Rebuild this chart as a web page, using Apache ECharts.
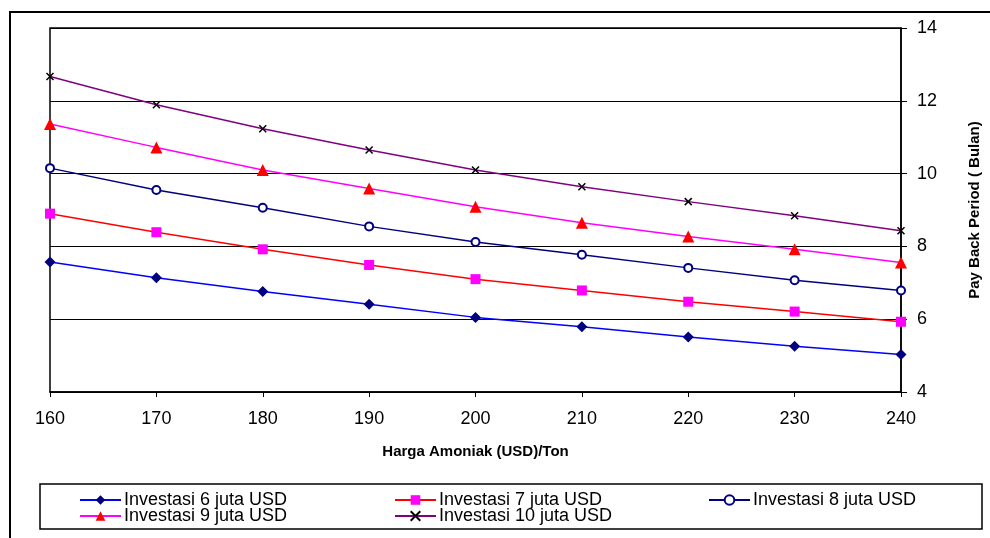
<!DOCTYPE html>
<html><head><meta charset="utf-8">
<script src="https://cdn.jsdelivr.net/npm/echarts@6/dist/echarts.min.js"></script>
<style>html,body{margin:0;padding:0;background:#fff}#c{width:990px;height:538px}</style>
</head><body><div id="c"></div>
<script>
const hargaTicks = [160, 170, 180, 190, 200, 210, 220, 230, 240];
const seriesNames = ['Investasi 6 juta USD','Investasi 7 juta USD','Investasi 8 juta USD','Investasi 9 juta USD','Investasi 10 juta USD'];
const inv6  = [7.57, 7.14, 6.76, 6.41, 6.05, 5.79, 5.51, 5.26, 5.03];
const inv7  = [8.90, 8.39, 7.92, 7.49, 7.10, 6.79, 6.48, 6.21, 5.93];
const inv8  = [10.15, 9.55, 9.06, 8.55, 8.12, 7.77, 7.41, 7.07, 6.79];
const inv9  = [11.36, 10.72, 10.10, 9.59, 9.09, 8.65, 8.27, 7.92, 7.56];
const inv10 = [12.67, 11.89, 11.23, 10.65, 10.10, 9.64, 9.23, 8.84, 8.43];

const font = '"Liberation Sans", Arial, sans-serif';
const pair = arr => arr.map((v,i)=>[hargaTicks[i], v]);
const styles = [
  {line:'#0000FF', symbol:'diamond', size:11, item:{color:'#000080'}},
  {line:'#FF0000', symbol:'rect', size:10, item:{color:'#FF00FF'}},
  {line:'#000080', symbol:'emptyCircle', size:8, item:{color:'#000080', borderWidth:1.2}},
  {line:'#FF00FF', symbol:'triangle', size:12, item:{color:'#FF0000'}},
  {line:'#800080', symbol:'path://M0,0L10,10M10,0L0,10', size:7, item:{color:'none', borderColor:'#000', borderWidth:1.5}}
];
const datas = [inv6, inv7, inv8, inv9, inv10];
const series = datas.map((d,i)=>({
  name: seriesNames[i], type:'line', data: pair(d),
  symbol: styles[i].symbol, symbolSize: styles[i].size, showAllSymbol:true,
  lineStyle:{color:styles[i].line, width:1.5},
  itemStyle: styles[i].item, z: 3+i, animation:false
}));
const legendBase = {orient:'vertical', top:491, itemWidth:41, itemHeight:12, itemGap:-2,
  textStyle:{fontFamily:font, fontSize:18, lineHeight:15, color:'#000', padding:[0,0,0,-2]}, padding:0, selectedMode:false};

const chart = echarts.init(document.getElementById('c'));
chart.setOption({
  animation:false,
  backgroundColor:'#fff',
  grid:{left:50, top:28, right:88, bottom:146, show:true, borderColor:'#000', borderWidth:1.5},
  xAxis:{type:'value', min:160, max:240, interval:10,
    name:'Harga Amoniak (USD)/Ton', nameLocation:'middle', nameGap:52,
    nameTextStyle:{fontFamily:font, fontSize:15, fontWeight:'bold', color:'#000'},
    axisLine:{show:true, lineStyle:{color:'#000', width:1.5}},
    axisTick:{show:true, length:5, lineStyle:{color:'#000'}},
    axisLabel:{fontFamily:font, fontSize:18, color:'#000', margin:18},
    splitLine:{show:false}},
  yAxis:{type:'value', position:'right', min:4, max:14, interval:2,
    name:'Pay Back Period ( Bulan)', nameLocation:'middle', nameGap:66, nameRotate:90,
    nameTextStyle:{fontFamily:font, fontSize:15, fontWeight:'bold', color:'#000'},
    axisLine:{show:true, lineStyle:{color:'#000', width:1.5}},
    axisTick:{show:true, length:6, lineStyle:{color:'#000'}},
    axisLabel:{fontFamily:font, fontSize:18, color:'#000', margin:16},
    splitLine:{show:true, lineStyle:{color:'#000', width:1.2}}},
  legend:[
    Object.assign({}, legendBase, {left:79, data:[seriesNames[0], seriesNames[3]]}),
    Object.assign({}, legendBase, {left:394, data:[seriesNames[1], seriesNames[4]]}),
    Object.assign({}, legendBase, {left:708, data:[seriesNames[2]]})
  ],
  graphic:[
    {type:'rect', shape:{x:10, y:12, width:1000, height:560}, style:{fill:'none', stroke:'#000', lineWidth:2}, silent:true},
    {type:'rect', shape:{x:40, y:484, width:942, height:45}, style:{fill:'none', stroke:'#000', lineWidth:1.5}, silent:true}
  ],
  series
});
</script></body></html>
